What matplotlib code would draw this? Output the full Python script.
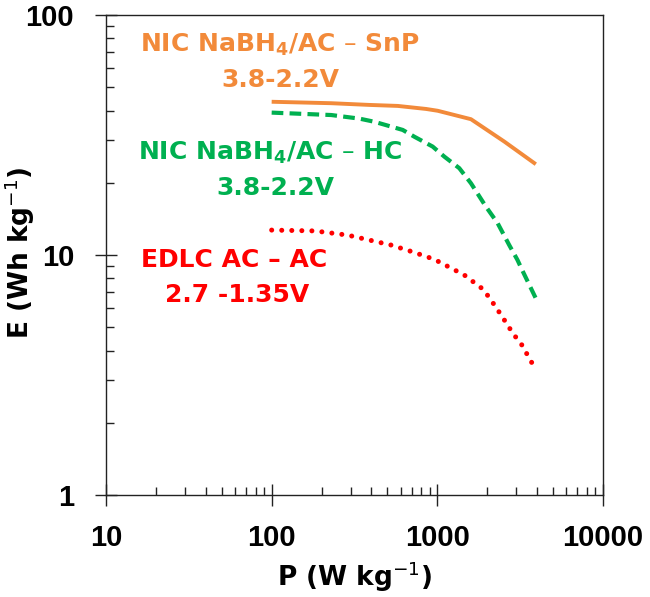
import matplotlib
matplotlib.use("Agg")
import matplotlib.pyplot as plt

plt.rcParams['font.family'] = ['DejaVu Sans']
plt.rcParams['mathtext.default'] = 'bf'

# Data
snp_P = [100, 229, 389, 577, 855, 1005, 1596, 2535, 3930]
snp_E = [43.5, 42.9, 42.2, 41.8, 40.6, 39.9, 36.8, 29.7, 23.9]

hc_P = [100, 229, 339, 417, 618, 727, 937, 1102, 1357, 1596, 1965, 2308, 2716, 3047, 3266, 3930]
hc_E = [39.2, 38.3, 37.0, 35.9, 33.2, 31.1, 28.3, 25.7, 23.0, 19.9, 15.9, 13.6, 11.0, 9.53, 8.6, 6.6]

edlc_P = [100, 182, 288, 526, 710, 959, 1455, 1858, 2057, 2432, 2653, 2884, 3192, 3717]
edlc_E = [12.7, 12.6, 12.1, 11.0, 10.3, 9.59, 8.25, 7.26, 6.66, 5.61, 5.11, 4.67, 4.29, 3.56]

x_ticks = [10, 100, 1000, 10000]
x_ticklabels = ['10', '100', '1000', '10000']
y_ticks = [1, 10, 100]
y_ticklabels = ['1', '10', '100']

ORANGE = '#F28A3A'
GREEN = '#00B050'
RED = '#FF0000'

fig = plt.figure(figsize=(6.5, 5.97), dpi=100)
L, R, T, B = 106, 603, 15, 495
ax = fig.add_axes([L/650, (597-B)/597, (R-L)/650, (B-T)/597])

ax.plot(snp_P, snp_E, color=ORANGE, lw=2.8, solid_capstyle='butt', solid_joinstyle='round')
ax.plot(hc_P, hc_E, color=GREEN, lw=3.0, linestyle=(0, (2.8, 1.5)), dash_capstyle='butt')
ax.plot(edlc_P, edlc_E, color=RED, lw=3.6, linestyle=(0, (0.01, 2.0)), dash_capstyle='round')

ax.set_xscale('log')
ax.set_yscale('log')
ax.set_xlim(10, 10000)
ax.set_ylim(1, 100)
ax.set_xticks(x_ticks)
ax.set_xticklabels(x_ticklabels)
ax.set_yticks(y_ticks)
ax.set_yticklabels(y_ticklabels)

for s in ax.spines.values():
    s.set_linewidth(1.0)
    s.set_color('#222222')

ax.tick_params(which='major', direction='inout', length=16, width=1.0,
               labelsize=21, color='#222222')
ax.tick_params(which='minor', direction='in', length=6, width=1.0, color='#222222')
ax.tick_params(axis='x', which='major', pad=13)
ax.tick_params(axis='y', which='major', pad=15)
for lab in ax.get_xticklabels() + ax.get_yticklabels():
    lab.set_fontweight('bold')
    lab.set_family(['Liberation Sans', 'DejaVu Sans'])

ax.set_xlabel(r'P (W kg$^{\mathsf{-1}}$)', fontsize=19, fontweight='bold')
ax.set_ylabel(r'E (Wh kg$^{\mathsf{-1}}$)', fontsize=19, fontweight='bold')
ax.xaxis.set_label_coords((355 - L) / (R - L), (B - 577) / (B - T))
ax.yaxis.set_label_coords((20 - L) / (R - L), (B - 253) / (B - T))
ax.xaxis.label.set_va('center')
ax.yaxis.label.set_va('center')

def lab(x, y, s, c):
    ax.text((x - L) / (R - L), (B - y) / (B - T), s, transform=ax.transAxes,
            ha='center', va='center', fontsize=18, fontweight='bold', color=c)

lab(280, 45, r'NIC NaBH$_4$/AC – SnP', ORANGE)
lab(280, 80, '3.8-2.2V', ORANGE)
lab(270, 153, r'NIC NaBH$_4$/AC – HC', GREEN)
lab(275, 188, '3.8-2.2V', GREEN)
lab(234, 260, 'EDLC AC – AC', RED)
lab(237, 295, '2.7 -1.35V', RED)

fig.savefig('out.png', dpi=100)
